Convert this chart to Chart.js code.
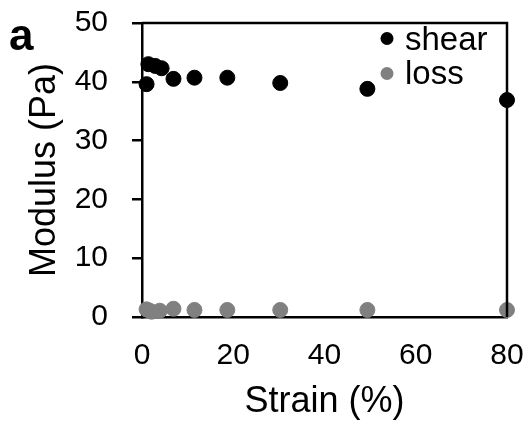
<!DOCTYPE html>
<html>
<head>
<meta charset="utf-8">
<script src="https://cdn.jsdelivr.net/npm/chart.js@4.4.0/dist/chart.umd.min.js"></script>
<style>
  html, body { margin: 0; padding: 0; background: #fff; }
  #wrap { width: 529px; height: 427px; }
</style>
</head>
<body>
<div id="wrap"><canvas id="myChart" width="529" height="427"></canvas></div>
<script>
/******** data */
const strain = [1, 1.4, 2.9, 4.3, 6.9, 11.5, 18.7, 30.3, 49.4, 80];
const shearModulus = [39.6, 43.0, 42.7, 42.3, 40.5, 40.7, 40.7, 39.8, 38.8, 36.9];
const lossStrain = [1, 1.6, 2.1, 3.9, 6.9, 11.5, 18.7, 30.3, 49.4, 80];
const lossModulus = [1.3, 1.1, 0.9, 1.07, 1.4, 1.2, 1.2, 1.2, 1.2, 1.2];
const seriesNames = ["shear", "loss"];
const seriesColors = ["#000000", "#808080"];
const xTicks = [0, 20, 40, 60, 80];
const yTicks = [0, 10, 20, 30, 40, 50];

const font = "Arial, 'Liberation Sans', sans-serif";

function toPoints(xs, ys) {
  return xs.map((x, i) => ({ x: x, y: ys[i] }));
}

// keep the plot box where it is in the figure, labels may hang over
function noLabelPadding(s) {
  s.paddingTop = 0;
  s.paddingBottom = 0;
  s.paddingLeft = 0;
  s.paddingRight = 0;
}

/******* box on top / right, legend and panel letter */
const decorations = {
  id: "decorations",
  afterDraw(chart) {
    const ctx = chart.ctx;
    const a = chart.chartArea;
    ctx.save();
    ctx.strokeStyle = "#000";
    ctx.lineWidth = 2.5;
    ctx.beginPath();
    ctx.moveTo(a.left, a.top);
    ctx.lineTo(a.right, a.top);
    ctx.lineTo(a.right, a.bottom);
    ctx.stroke();

    // legend
    ctx.font = "33px " + font;
    ctx.textBaseline = "alphabetic";
    const rows = [[38.5, 50], [73.5, 84]];
    chart.data.datasets.forEach((ds, i) => {
      ctx.fillStyle = ds.backgroundColor;
      ctx.beginPath();
      ctx.arc(387, rows[i][0], 6.5, 0, Math.PI * 2);
      ctx.fill();
      ctx.fillStyle = "#000";
      ctx.fillText(ds.label, 405, rows[i][1]);
    });

    // panel letter
    ctx.font = "bold 44px " + font;
    ctx.fillText("a", 9, 50);
    ctx.restore();
  }
};

const ctx = document.getElementById("myChart");
new Chart(ctx, {
  type: "scatter",
  data: {
    datasets: [
      {
        label: seriesNames[0],
        data: toPoints(strain, shearModulus),
        backgroundColor: seriesColors[0],
        borderColor: seriesColors[0],
        pointRadius: 7.5,
        clip: false,
      },
      {
        label: seriesNames[1],
        data: toPoints(lossStrain, lossModulus),
        backgroundColor: seriesColors[1],
        borderColor: seriesColors[1],
        pointRadius: 7.5,
        clip: false,
      },
    ],
  },
  options: {
    responsive: false,
    animation: false,
    layout: { padding: { top: 23, right: 22, left: 0, bottom: 0 } },
    plugins: {
      legend: { display: false },
      tooltip: { enabled: false },
    },
    scales: {
      x: {
        type: "linear",
        min: 0,
        max: 80,
        afterBuildTicks: (s) => { s.ticks = xTicks.map((v) => ({ value: v })); },
        afterFit: (s) => { s.height = 110; noLabelPadding(s); },
        grid: { display: false },
        border: { display: true, color: "#000", width: 2.5 },
        ticks: { color: "#000", padding: 13, maxRotation: 0, font: { size: 30, family: font } },
        title: {
          display: true,
          text: "Strain (%)",
          color: "#000",
          padding: { top: 0, bottom: 3 },
          font: { size: 36, family: font },
        },
      },
      y: {
        type: "linear",
        min: 0,
        max: 50,
        afterBuildTicks: (s) => { s.ticks = yTicks.map((v) => ({ value: v })); },
        afterFit: (s) => { s.width = 142; noLabelPadding(s); },
        grid: { display: true, drawOnChartArea: false, drawTicks: true, tickLength: 10, color: "#000", lineWidth: 2.5 },
        border: { display: true, color: "#000", width: 2.5 },
        ticks: { color: "#000", padding: 24, font: { size: 30, family: font } },
        title: {
          display: true,
          text: "Modulus (Pa)",
          color: "#000",
          padding: { top: 23, bottom: 0 },
          font: { size: 36, family: font },
        },
      },
    },
  },
  plugins: [decorations],
});
</script>
</body>
</html>
